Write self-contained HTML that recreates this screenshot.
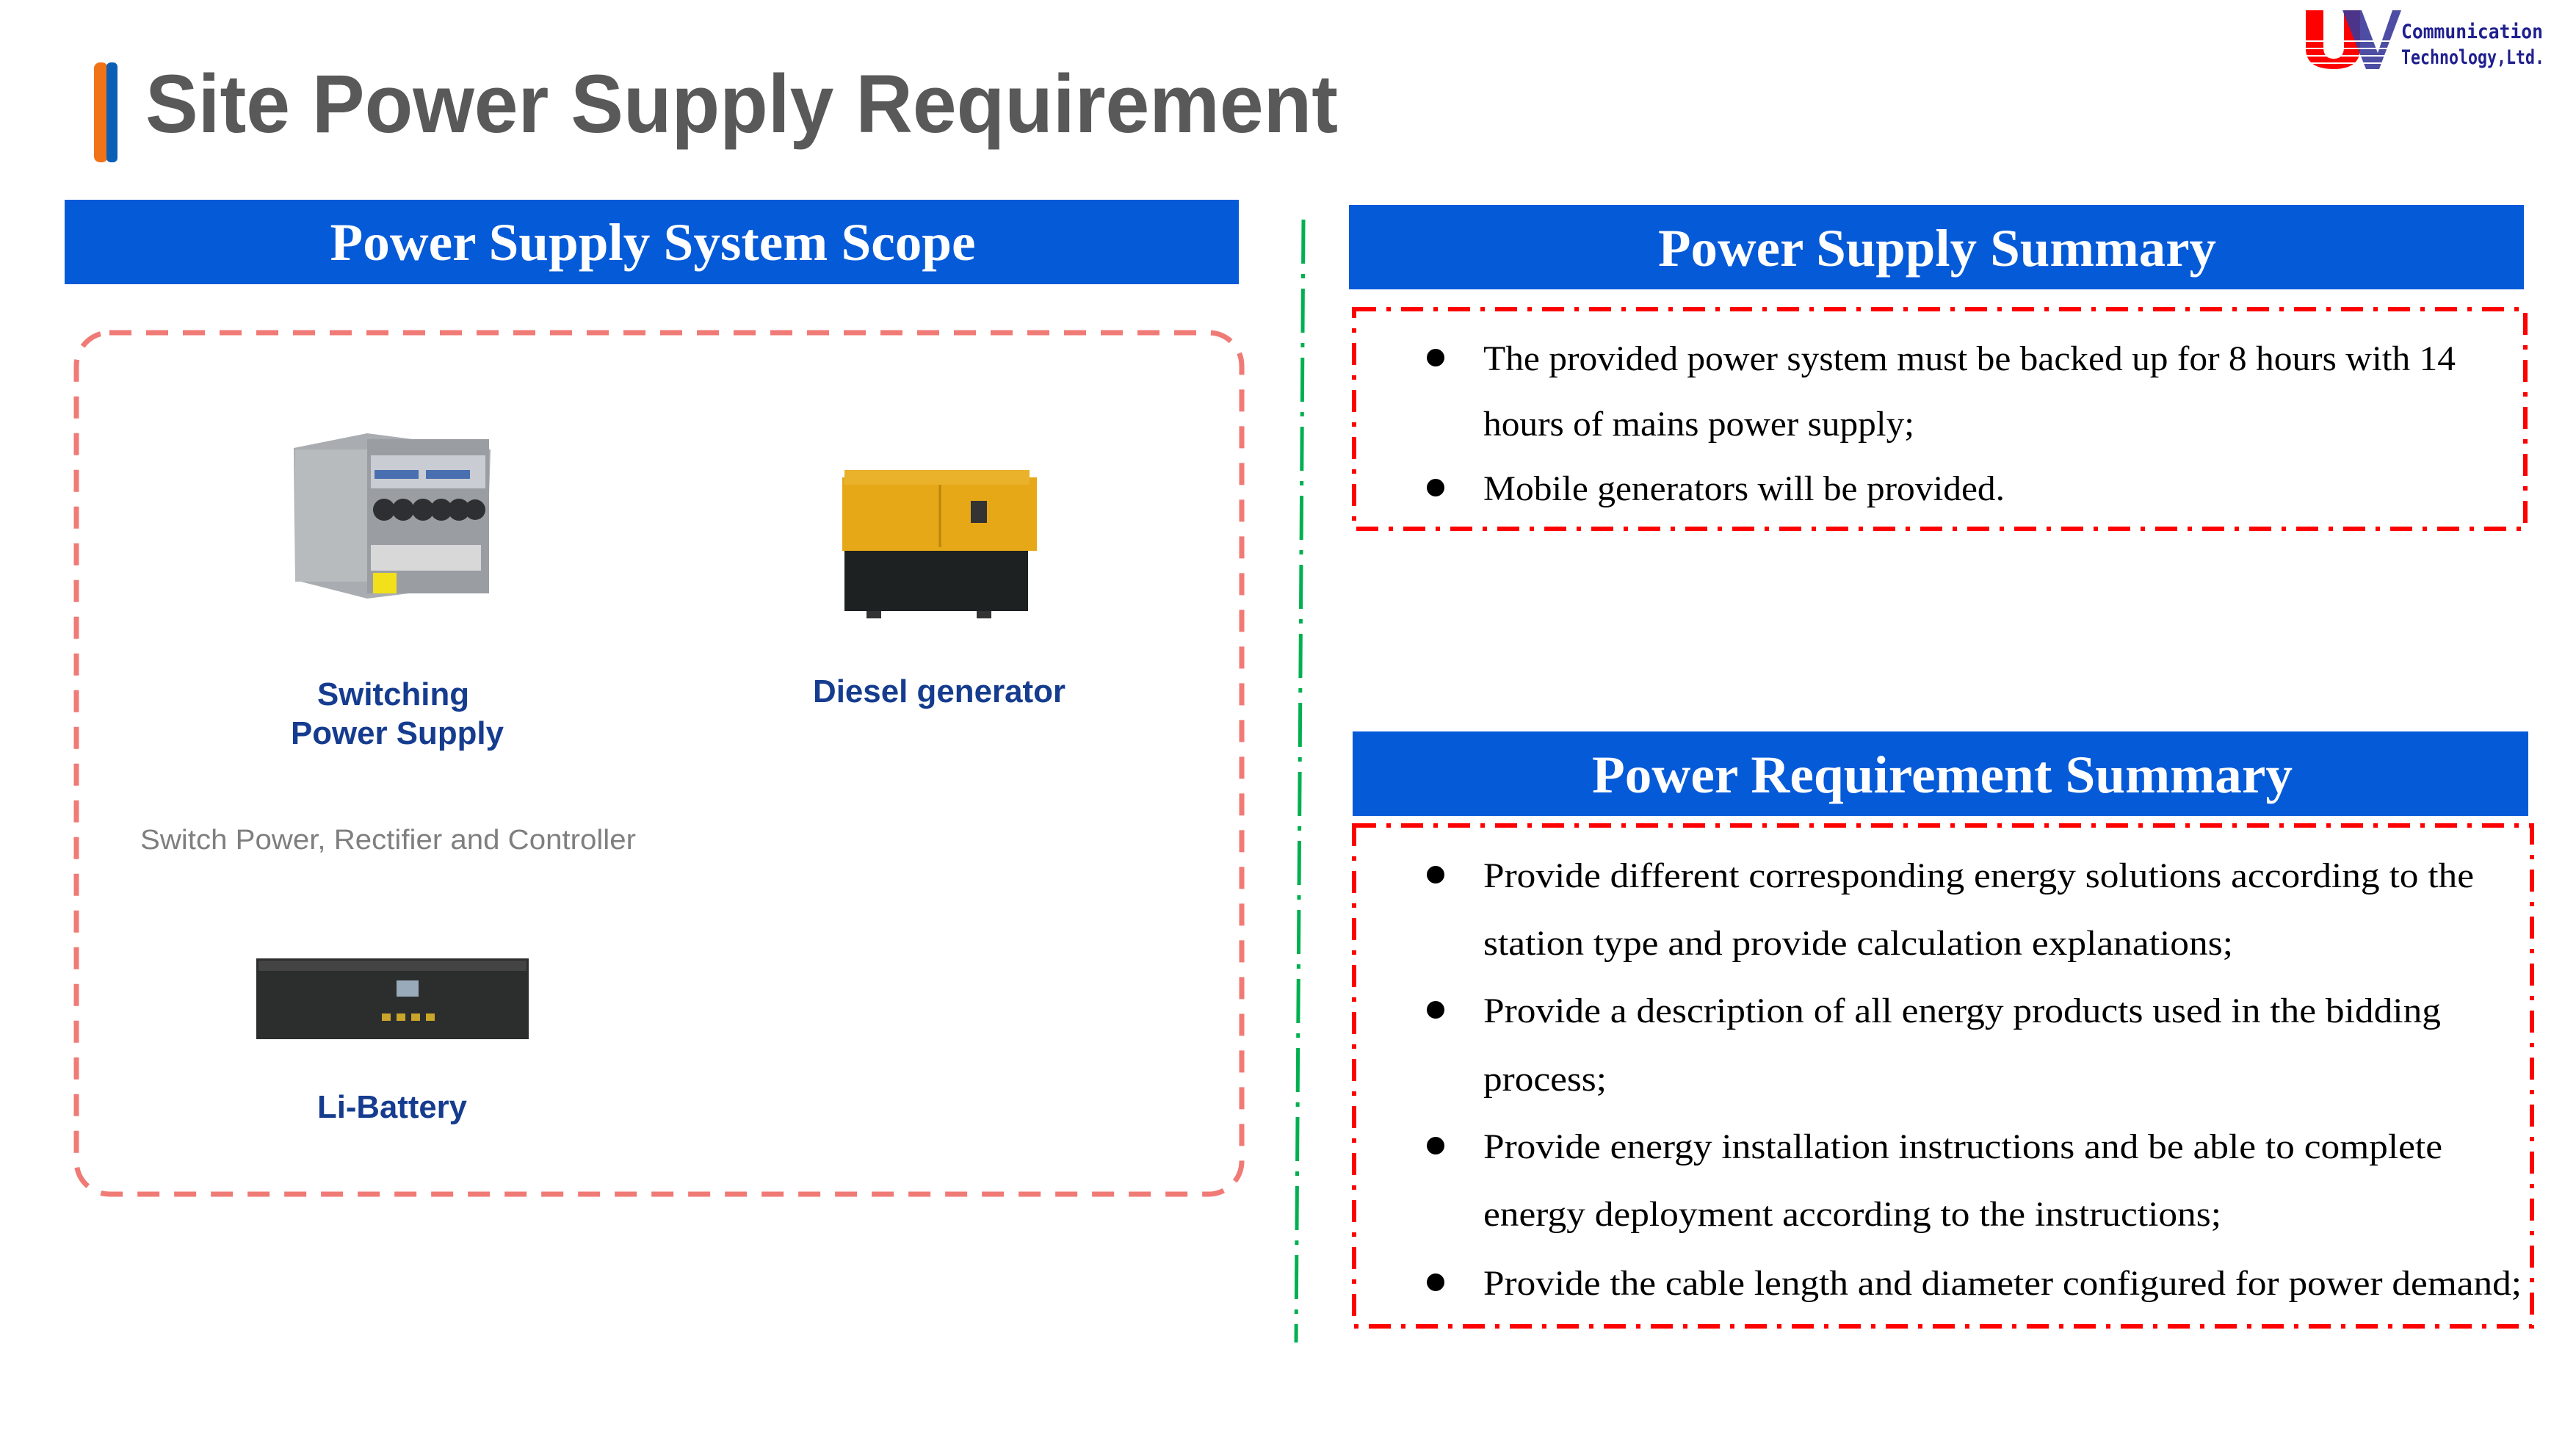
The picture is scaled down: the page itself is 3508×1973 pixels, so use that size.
<!DOCTYPE html>
<html><head><meta charset="utf-8"><style>html,body{margin:0;padding:0;background:#fff}svg{display:block}</style></head>
<body>
<svg width="3508" height="1973" viewBox="0 0 3508 1973" xmlns="http://www.w3.org/2000/svg">
<rect width="3508" height="1973" fill="#fff"/>
<!-- title bar -->
<rect x="128" y="85" width="19" height="136" rx="8" fill="#f07318"/>
<rect x="145" y="85" width="15" height="136" rx="6" fill="#0b5fb5"/>
<text x="198" y="180" font-family="Liberation Sans, sans-serif" font-weight="bold" font-size="112" fill="#595959" textLength="1624" lengthAdjust="spacingAndGlyphs">Site Power Supply Requirement</text>
<!-- logo -->
<g>
<path d="M3140 14 h24 v50 q0 16 14 16 q14 0 14 -16 v-50 h22 v52 q0 28 -36 28 q-38 0 -38 -28z" fill="#f00"/>
<path d="M3190 14 h26 l22 58 l20 -58 h12 l-30 80 h-18z" fill="#3a3a9a" opacity="0.9"/>
<g stroke="#fff" stroke-width="2"><line x1="3136" y1="56" x2="3275" y2="56"/><line x1="3136" y1="66" x2="3275" y2="66"/><line x1="3136" y1="76" x2="3275" y2="76"/><line x1="3136" y1="86" x2="3275" y2="86"/></g>
<text x="3270" y="52" font-family="DejaVu Sans Mono, monospace" font-weight="bold" font-size="27" fill="#1f1f8f" textLength="193" lengthAdjust="spacingAndGlyphs">Communication</text>
<text x="3270" y="87" font-family="DejaVu Sans Mono, monospace" font-weight="bold" font-size="27" fill="#1f1f8f" textLength="195" lengthAdjust="spacingAndGlyphs">Technology,Ltd.</text>
</g>
<!-- left header -->
<rect x="88" y="272" width="1599" height="115" fill="#055ad8"/>
<text x="889" y="354" text-anchor="middle" font-family="Liberation Serif, serif" font-weight="bold" font-size="72" fill="#fff" textLength="879" lengthAdjust="spacingAndGlyphs">Power Supply System Scope</text>
<!-- left dashed box -->
<rect x="104" y="453" width="1587" height="1173" rx="45" fill="none" stroke="#f07a75" stroke-width="7" stroke-dasharray="30 20"/>
<!-- switching power supply image -->
<g>
<polygon points="400,610 500,590 668,612 662,795 500,815 402,790" fill="#a9acb0"/>
<rect x="402" y="612" width="98" height="180" fill="#b8bbbe"/>
<rect x="500" y="598" width="166" height="210" fill="#9a9ea3"/>
<rect x="505" y="620" width="156" height="45" fill="#c9ccd2"/>
<g fill="#4a6fb0"><rect x="510" y="640" width="60" height="12"/><rect x="580" y="640" width="60" height="12"/></g>
<g fill="#2e2f33"><circle cx="523" cy="694" r="15"/><circle cx="549" cy="694" r="15"/><circle cx="576" cy="694" r="15"/><circle cx="601" cy="694" r="15"/><circle cx="625" cy="694" r="15"/><circle cx="647" cy="694" r="14"/></g>
<rect x="505" y="742" width="150" height="35" fill="#d8d8d8"/>
<rect x="508" y="780" width="32" height="28" fill="#f2e01a"/>
</g>
<!-- diesel generator -->
<g>
<rect x="1147" y="650" width="265" height="100" fill="#e7a817"/>
<rect x="1150" y="640" width="252" height="20" fill="#eab22a"/>
<rect x="1150" y="750" width="250" height="82" fill="#1e2121"/>
<line x1="1280" y1="660" x2="1280" y2="745" stroke="#b8860b" stroke-width="3"/>
<rect x="1322" y="682" width="22" height="30" fill="#333"/>
<rect x="1180" y="832" width="20" height="10" fill="#333"/><rect x="1330" y="832" width="20" height="10" fill="#333"/>
</g>
<!-- battery -->
<g>
<rect x="349" y="1305" width="371" height="110" fill="#2c2e2e"/>
<rect x="352" y="1308" width="365" height="14" fill="#444"/>
<rect x="540" y="1335" width="30" height="22" fill="#9ab"/>
<g fill="#c9a52a"><rect x="520" y="1380" width="12" height="10"/><rect x="540" y="1380" width="12" height="10"/><rect x="560" y="1380" width="12" height="10"/><rect x="580" y="1380" width="12" height="10"/></g>
</g>
<g font-family="Liberation Sans, sans-serif" font-weight="bold" font-size="44" fill="#153c8e">
<text x="432" y="960" textLength="207" lengthAdjust="spacingAndGlyphs">Switching</text>
<text x="396" y="1013" textLength="290" lengthAdjust="spacingAndGlyphs">Power Supply</text>
<text x="1107" y="956" textLength="344" lengthAdjust="spacingAndGlyphs">Diesel generator</text>
<text x="432" y="1522" textLength="204" lengthAdjust="spacingAndGlyphs">Li-Battery</text>
</g>
<text x="191" y="1156" font-family="Liberation Sans, sans-serif" font-size="38" fill="#7f7f7f" textLength="675" lengthAdjust="spacingAndGlyphs">Switch Power, Rectifier and Controller</text>
<!-- green divider -->
<line x1="1775" y1="299" x2="1765" y2="1828" stroke="#00b050" stroke-width="5" stroke-dasharray="60 14 6 14"/>
<!-- right header 1 -->
<rect x="1837" y="279" width="1600" height="115" fill="#055ad8"/>
<text x="2638" y="362" text-anchor="middle" font-family="Liberation Serif, serif" font-weight="bold" font-size="72" fill="#fff" textLength="760" lengthAdjust="spacingAndGlyphs">Power Supply Summary</text>
<rect x="1844" y="421" width="1595" height="299" fill="none" stroke="#ff0000" stroke-width="6" stroke-dasharray="30 14 6 14"/>
<g font-family="Liberation Serif, serif" font-size="48" fill="#000">
<circle cx="1955" cy="487" r="12"/>
<text x="2020" y="504" textLength="1324" lengthAdjust="spacingAndGlyphs">The provided power system must be backed up for 8 hours with 14</text>
<text x="2020" y="593" textLength="587" lengthAdjust="spacingAndGlyphs">hours of mains power supply;</text>
<circle cx="1955" cy="664" r="12"/>
<text x="2020" y="681" textLength="710" lengthAdjust="spacingAndGlyphs">Mobile generators will be provided.</text>
</g>
<!-- right header 2 -->
<rect x="1842" y="996" width="1601" height="115" fill="#055ad8"/>
<text x="2645" y="1079" text-anchor="middle" font-family="Liberation Serif, serif" font-weight="bold" font-size="72" fill="#fff" textLength="954" lengthAdjust="spacingAndGlyphs">Power Requirement Summary</text>
<rect x="1844" y="1124" width="1604" height="682" fill="none" stroke="#ff0000" stroke-width="6" stroke-dasharray="30 14 6 14"/>
<g font-family="Liberation Serif, serif" font-size="48" fill="#000">
<circle cx="1955" cy="1191" r="12"/>
<text x="2020" y="1208" textLength="1349" lengthAdjust="spacingAndGlyphs">Provide different corresponding energy solutions according to the</text>
<text x="2020" y="1300" textLength="1021" lengthAdjust="spacingAndGlyphs">station type and provide calculation explanations;</text>
<circle cx="1955" cy="1375" r="12"/>
<text x="2020" y="1392" textLength="1304" lengthAdjust="spacingAndGlyphs">Provide a description of all energy products used in the bidding</text>
<text x="2020" y="1485" textLength="168" lengthAdjust="spacingAndGlyphs">process;</text>
<circle cx="1955" cy="1560" r="12"/>
<text x="2020" y="1577" textLength="1306" lengthAdjust="spacingAndGlyphs">Provide energy installation instructions and be able to complete</text>
<text x="2020" y="1669" textLength="1005" lengthAdjust="spacingAndGlyphs">energy deployment according to the instructions;</text>
<circle cx="1955" cy="1746" r="12"/>
<text x="2020" y="1763" textLength="1414" lengthAdjust="spacingAndGlyphs">Provide the cable length and diameter configured for power demand;</text>
</g>
</svg>
</body></html>
